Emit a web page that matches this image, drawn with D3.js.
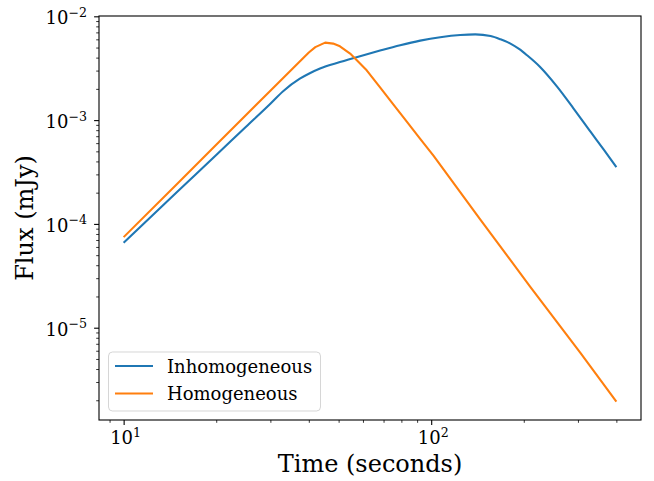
<!DOCTYPE html>
<html>
<head>
<meta charset="utf-8">
<script src="https://cdn.jsdelivr.net/npm/d3@7"></script>
<style>
  body { margin: 0; background: #fff; }
  svg { display: block; }
  text { font-family: "DejaVu Serif", serif; fill: #000; }
</style>
</head>
<body>
<svg id="chart" width="654" height="481"></svg>
<script>
// Light curves: flux density (mJy) versus time since trigger (s)
const seriesNames = ["Inhomogeneous", "Homogeneous"];
const seriesColors = ["#1f77b4", "#ff7f0e"];

const inhomTime = [10, 15, 20, 25, 30, 33, 37.4, 40, 43.5, 50.5, 58.7, 68.2, 79.3, 92.1,
                   107, 124.3, 139.1, 156, 167.8, 181, 193, 205, 226, 257, 290, 330, 365, 400];
const inhomFlux = [6.58e-5, 2.06e-4, 4.61e-4, 8.64e-4, 1.44e-3, 1.90e-3, 2.51e-3, 2.80e-3,
                   3.14e-3, 3.62e-3, 4.13e-3, 4.68e-3, 5.27e-3, 5.83e-3, 6.29e-3, 6.61e-3,
                   6.70e-3, 6.45e-3, 6.01e-3, 5.46e-3, 4.85e-3, 4.21e-3, 3.25e-3,
                   2.09e-3, 1.30e-3, 7.69e-4, 5.13e-4, 3.52e-4];

const homTime = [10, 15, 20, 25, 30, 35, 40, 42, 45.2, 48, 50.5, 54.5, 57.3, 61.7, 68.2,
                 75.4, 83.3, 92.1, 101.7, 144.5, 210, 305.6, 400];
const homFlux = [7.46e-5, 2.47e-4, 5.78e-4, 1.12e-3, 1.92e-3, 3.02e-3, 4.48e-3, 5.05e-3,
                 5.58e-3, 5.46e-3, 5.14e-3, 4.38e-3, 3.78e-3, 3.02e-3, 2.07e-3,
                 1.41e-3, 9.68e-4, 6.61e-4, 4.55e-4, 1.10e-4, 2.48e-5, 5.71e-6, 1.94e-6];

// Major tick exponents (labelled as powers of ten)
const xTickExponents = [1, 2];
const yTickExponents = [-5, -4, -3, -2];

const xLabel = "Time (seconds)";
const yLabel = "Flux (mJy)";

const frame = { left: 99, top: 16, right: 641, bottom: 420 };

const svg = d3.select("#chart");

// log-space limits with 5% padding around the data
function paddedLogDomain(vals) {
  const lo = Math.log10(d3.min(vals)), hi = Math.log10(d3.max(vals));
  const pad = (hi - lo) * 0.05;
  return [Math.pow(10, lo - pad), Math.pow(10, hi + pad)];
}
const x = d3.scaleLog()
  .domain(paddedLogDomain(inhomTime.concat(homTime)))
  .range([frame.left, frame.right]);
const y = d3.scaleLog()
  .domain(paddedLogDomain(inhomFlux.concat(homFlux)))
  .range([frame.bottom, frame.top]);

function minorTicks(scale) {
  const [a, b] = scale.domain();
  const out = [];
  for (let e = Math.floor(Math.log10(a)); e <= Math.ceil(Math.log10(b)); e++) {
    for (let k = 2; k <= 9; k++) {
      const v = k * Math.pow(10, e);
      if (v >= a && v <= b) out.push(v);
    }
  }
  return out;
}

function powerLabel(textSel, exp) {
  textSel.append("tspan").text("10");
  textSel.append("tspan")
    .attr("dy", -7.5)
    .attr("font-size", 12.6)
    .text(exp < 0 ? "\u2212" + (-exp) : String(exp));
}

const majorLen = 4.9, minorLen = 2.8;

// x axis
const gxMinor = svg.append("g").attr("transform", `translate(0,${frame.bottom})`)
  .call(d3.axisBottom(x).tickValues(minorTicks(x)).tickSize(minorLen).tickFormat(""));
gxMinor.select(".domain").remove();
gxMinor.selectAll("line").attr("stroke", "#000").attr("stroke-width", 0.8);

const gxMajor = svg.append("g").attr("transform", `translate(0,${frame.bottom})`)
  .call(d3.axisBottom(x).tickValues(xTickExponents.map(e => Math.pow(10, e))).tickSize(majorLen).tickFormat(""));
gxMajor.select(".domain").remove();
gxMajor.selectAll("line").attr("stroke", "#000").attr("stroke-width", 1.1);

xTickExponents.forEach(e => {
  const t = svg.append("text")
    .attr("x", x(Math.pow(10, e)) + 2)
    .attr("y", 444)
    .attr("text-anchor", "middle")
    .attr("font-size", 18);
  powerLabel(t, e);
});

// y axis
const gyMinor = svg.append("g").attr("transform", `translate(${frame.left},0)`)
  .call(d3.axisLeft(y).tickValues(minorTicks(y)).tickSize(minorLen).tickFormat(""));
gyMinor.select(".domain").remove();
gyMinor.selectAll("line").attr("stroke", "#000").attr("stroke-width", 0.8);

const gyMajor = svg.append("g").attr("transform", `translate(${frame.left},0)`)
  .call(d3.axisLeft(y).tickValues(yTickExponents.map(e => Math.pow(10, e))).tickSize(majorLen).tickFormat(""));
gyMajor.select(".domain").remove();
gyMajor.selectAll("line").attr("stroke", "#000").attr("stroke-width", 1.1);

yTickExponents.forEach(e => {
  const t = svg.append("text")
    .attr("x", frame.left - 12)
    .attr("y", y(Math.pow(10, e)) + 8)
    .attr("text-anchor", "end")
    .attr("font-size", 18);
  powerLabel(t, e);
});

// curves
const inhomPts = inhomTime.map((t, i) => [t, inhomFlux[i]]);
const homPts = homTime.map((t, i) => [t, homFlux[i]]);

svg.append("path")
  .datum(inhomPts)
  .attr("fill", "none")
  .attr("stroke", seriesColors[0])
  .attr("stroke-width", 2.1)
  .attr("stroke-linejoin", "round")
  .attr("d", d3.line().x(d => x(d[0])).y(d => y(d[1])).curve(d3.curveMonotoneX));

svg.append("path")
  .datum(homPts)
  .attr("fill", "none")
  .attr("stroke", seriesColors[1])
  .attr("stroke-width", 2.1)
  .attr("stroke-linejoin", "round")
  .attr("d", d3.line().x(d => x(d[0])).y(d => y(d[1])));

// frame
svg.append("rect")
  .attr("x", frame.left).attr("y", frame.top)
  .attr("width", frame.right - frame.left)
  .attr("height", frame.bottom - frame.top)
  .attr("fill", "none")
  .attr("stroke", "#000")
  .attr("stroke-width", 1.1);

// axis titles
svg.append("text")
  .attr("x", (frame.left + frame.right) / 2)
  .attr("y", 472)
  .attr("text-anchor", "middle")
  .attr("font-size", 24)
  .text(xLabel);

svg.append("text")
  .attr("transform", `translate(33,${(frame.top + frame.bottom) / 2}) rotate(-90)`)
  .attr("text-anchor", "middle")
  .attr("font-size", 24)
  .text(yLabel);

// legend
const legend = svg.append("g");
legend.append("rect")
  .attr("x", 108.5).attr("y", 352)
  .attr("width", 212).attr("height", 59)
  .attr("rx", 4).attr("ry", 4)
  .attr("fill", "#fff").attr("fill-opacity", 0.8)
  .attr("stroke", "#cccccc").attr("stroke-opacity", 0.8)
  .attr("stroke-width", 1);

seriesNames.forEach((name, i) => {
  const cy = 366 + i * 27.5;
  legend.append("line")
    .attr("x1", 115).attr("x2", 153)
    .attr("y1", cy).attr("y2", cy)
    .attr("stroke", seriesColors[i])
    .attr("stroke-width", 2.1);
  legend.append("text")
    .attr("x", 167)
    .attr("y", cy + 6.5)
    .attr("font-size", 18)
    .text(name);
});
</script>
</body>
</html>
